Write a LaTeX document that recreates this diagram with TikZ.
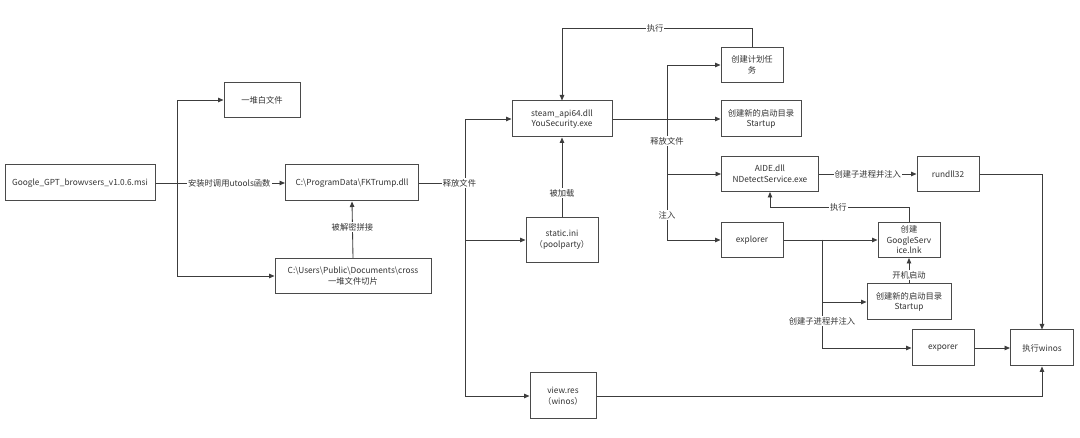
\documentclass[tikz,border=0pt]{standalone}
\usepackage{fontspec}
\setmainfont{Noto Sans CJK SC}
\usetikzlibrary{arrows.meta}
\definecolor{boxc}{HTML}{4A4A4A}
\definecolor{linec}{HTML}{3C3C3C}
\definecolor{txtc}{HTML}{333333}
\begin{document}
\begin{tikzpicture}[x=1pt,y=-1pt,
  box/.style={draw=boxc, line width=1pt, fill=white, align=center, inner sep=1pt,
    font=\fontsize{8.3}{10.5}\selectfont, text=txtc},
  conn/.style={draw=linec, line width=0.85pt, -{Triangle[length=5.5pt,width=4.5pt]}},
  plainline/.style={draw=linec, line width=0.85pt},
  lbl/.style={fill=white, inner sep=1pt, font=\fontsize{8.3}{10}\selectfont, text=txtc}]
\fill[white] (0,0) rectangle (1080,438);
\useasboundingbox (0,0) rectangle (1080,438);

% nodes
\node[box, minimum width=150pt, minimum height=36pt] (msi) at (80,183) {Google\_GPT\_browvsers\_v1.0.6.msi};
\node[box, minimum width=76pt, minimum height=35pt] (white) at (262,100) {一堆白文件};
\node[box, minimum width=133pt, minimum height=36pt] (fk) at (352,183) {C:\textbackslash ProgramData\textbackslash FKTrump.dll};
\node[box, minimum width=156pt, minimum height=35pt] (cross) at (353,276) {C:\textbackslash Users\textbackslash Public\textbackslash Documents\textbackslash cross\\一堆文件切片};
\node[box, minimum width=100pt, minimum height=36pt] (steam) at (562,119) {steam\_api64.dll\\YouSecurity.exe};
\node[box, minimum width=72pt, minimum height=45pt] (static) at (562,240) {static.ini\\（poolparty）};
\node[box, minimum width=66pt, minimum height=46pt] (view) at (563,396) {view.res\\（winos）};
\node[box, minimum width=62pt, minimum height=35pt] (plan) at (752,65) {创建计划任\\务};
\node[box, minimum width=80pt, minimum height=36pt] (start1) at (761,119) {创建新的启动目录\\Startup};
\node[box, minimum width=97pt, minimum height=35pt] (aide) at (770,174) {AIDE.dll\\NDetectService.exe};
\node[box, minimum width=62pt, minimum height=35pt] (rundll) at (948,174) {rundll32};
\node[box, minimum width=62pt, minimum height=35pt] (explorer) at (752,240) {explorer};
\node[box, minimum width=62pt, minimum height=35pt] (gs) at (909,240) {创建\\GoogleServ\\ice.lnk};
\node[box, minimum width=84pt, minimum height=36pt] (start2) at (909,302) {创建新的启动目录\\Startup};
\node[box, minimum width=62pt, minimum height=36pt] (exporer) at (943,348) {exporer};
\node[box, minimum width=63pt, minimum height=36pt] (winos) at (1042,348) {执行winos};

% junctions
\coordinate (j1) at (177,183);
\coordinate (j2) at (465,183);
\coordinate (j3) at (667,119);
\coordinate (j4) at (822,240);
\coordinate (t1) at (752,28);
\coordinate (t2) at (562,28);
\coordinate (g1) at (909,207);

% connectors
\draw[conn] (msi.east) -- (fk.west);
\draw[conn] (j1) |- (white.west);
\draw[conn] (j1) |- (cross.west);
\draw[conn] (cross.north) -- (fk.south);
\draw[plainline] (fk.east) -- (j2);
\draw[conn] (j2) |- (steam.west);
\draw[conn] (j2) |- (static.west);
\draw[conn] (j2) |- (view.west);
\draw[conn] (static.north) -- (steam.south);
\draw[conn] (plan.north) -- (t1) -- (t2) -- (steam.north);
\draw[conn] (steam.east) -- (start1.west);
\draw[conn] (j3) |- (plan.west);
\draw[conn] (j3) |- (aide.west);
\draw[conn] (j3) |- (explorer.west);
\draw[conn] (aide.east) -- (rundll.west);
\draw[conn] (rundll.east) -| (winos.north);
\draw[conn] (explorer.east) -- (gs.west);
\draw[conn] (j4) |- (start2.west);
\draw[conn] (j4) |- (exporer.west);
\draw[conn] (exporer.east) -- (winos.west);
\draw[conn] (gs.north) -- (g1) -| (aide.south);
\draw[conn] (start2.north) -- (gs.south);
\draw[conn] (view.east) -| (winos.south);

% labels
\path (msi.east) -- (fk.west) node[lbl, pos=0.57] {安装时调用utools函数};
\path (cross.north) -- (fk.south) node[lbl, pos=0.55] {被解密拼接};
\path (fk.east) -- (j2) node[lbl, pos=0.88] {释放文件};
\path (static.north) -- (steam.south) node[lbl, pos=0.3] {被加载};
\path (t1) -- (t2) node[lbl, pos=0.51] {执行};
\path (j3) |- (aide.west) node[lbl, pos=0.2] {释放文件};
\path (j3) |- (explorer.west) node[lbl, pos=0.397] {注入};
\path (aide.east) -- (rundll.west) node[lbl, pos=0.5] {创建子进程并注入};
\path (j4) |- (exporer.west) node[lbl, pos=0.375] {创建子进程并注入};
\path (g1) -| (aide.south) node[lbl, pos=0.254] {执行};
\path (start2.north) -- (gs.south) node[lbl, pos=0.33] {开机启动};
\end{tikzpicture}
\end{document}
